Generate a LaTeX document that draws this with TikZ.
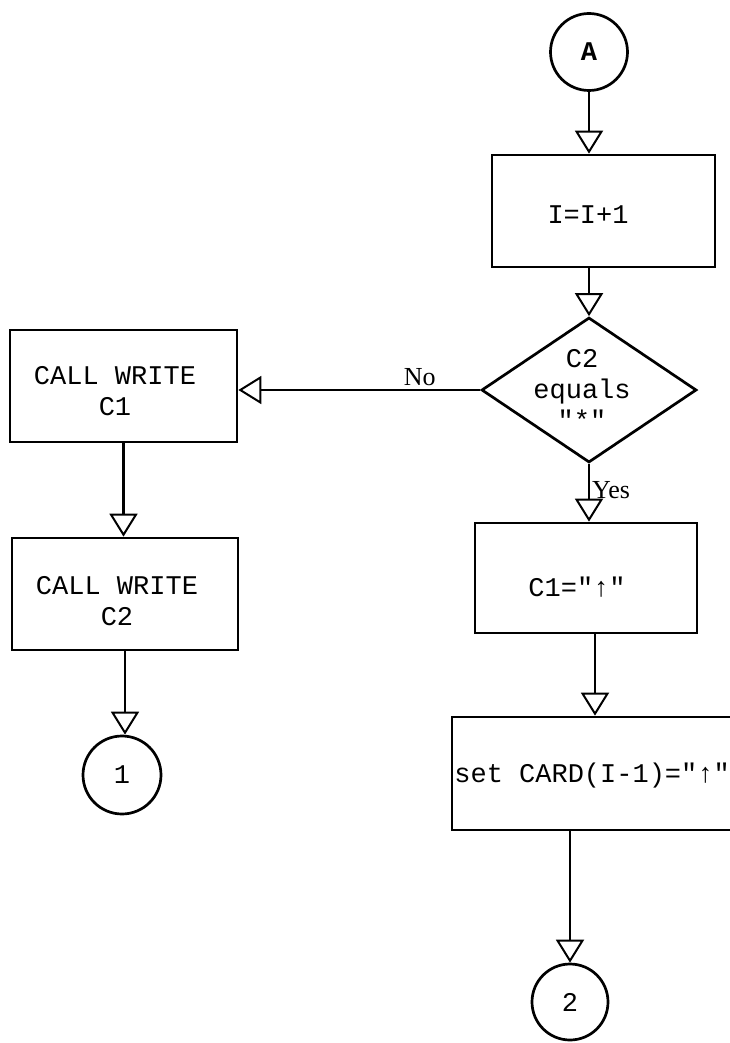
\documentclass[tikz,border=0pt]{standalone}
\usepackage{fontspec}
\setmonofont{Liberation Mono}
\newfontfamily\labelfont{Liberation Serif}
\usetikzlibrary{arrows.meta,shapes.geometric}

\begin{document}
\begin{tikzpicture}[x=1pt,y=-1pt,
  line width=2.7pt,
  every node/.style={font=\ttfamily\fontsize{27}{31}\selectfont, inner sep=0pt},
  box/.style={draw, rectangle},
  term/.style={draw, circle, minimum size=77pt},
  decision/.style={draw, diamond, aspect=1.48},
  conn/.style={line width=2.4pt, -{Triangle[open,length=23pt,width=28pt,line width=2pt]}},
  lbl/.style={font=\labelfont\fontsize{26}{30}\selectfont}
]
\useasboundingbox (0,0) rectangle (730,1043);

% right column
\node[term] (A) at (589,52) {\textbf{A}};
\node[box, minimum width=223pt, minimum height=112pt] (inc) at (603.5,211) {};
\node (inctext) at (588,215) {I=I+1};

\node[decision, minimum width=215pt, minimum height=145pt] (dec) at (589,390) {};
\node[align=center] (dectext) at (582,389) {C2\\equals\\"*"};

\node[box, minimum width=222pt, minimum height=110pt] (c1) at (586,578) {};
\node (c1text) at (577,587) {C1="↑"};

\node[box, minimum width=281pt, minimum height=113pt] (set) at (592.5,773.5) {};
\node[anchor=west] (settext) at (453,776) {set CARD(I-1)="↑"};

\node[term, minimum size=76pt] (two) at (570,1002) {2};

% left column
\node[box, minimum width=227pt, minimum height=112pt] (w1) at (123.5,386) {};
\node[align=center] (w1text) at (115,391) {CALL WRITE\\C1};

\node[box, minimum width=226pt, minimum height=112pt] (w2) at (125,594) {};
\node[align=center] (w2text) at (117,601) {CALL WRITE\\C2};

\node[term, minimum size=78pt] (one) at (122,775) {1};

% connectors
\draw[conn] (A.south) -- (A.south |- inc.north);
\draw[conn] (inc.south -| A) -- (dec.north);
\draw[conn] (dec.west) -- (dec.west -| w1.east)
  node[lbl, pos=0.25, above=3pt] {No};
\draw[conn] (dec.south) -- (dec.south |- c1.north)
  node[lbl, pos=0.45, right=2pt] {Yes};
\draw[conn] ([xshift=9pt]c1.south) -- ([xshift=9pt]c1.south |- set.north);
\draw[conn] (set.south -| two) -- (two.north);
\draw[conn] (w1.south) -- (w1.south |- w2.north);
\draw[conn] (w2.south) -- (w2.south |- one.north);
\end{tikzpicture}
\end{document}
